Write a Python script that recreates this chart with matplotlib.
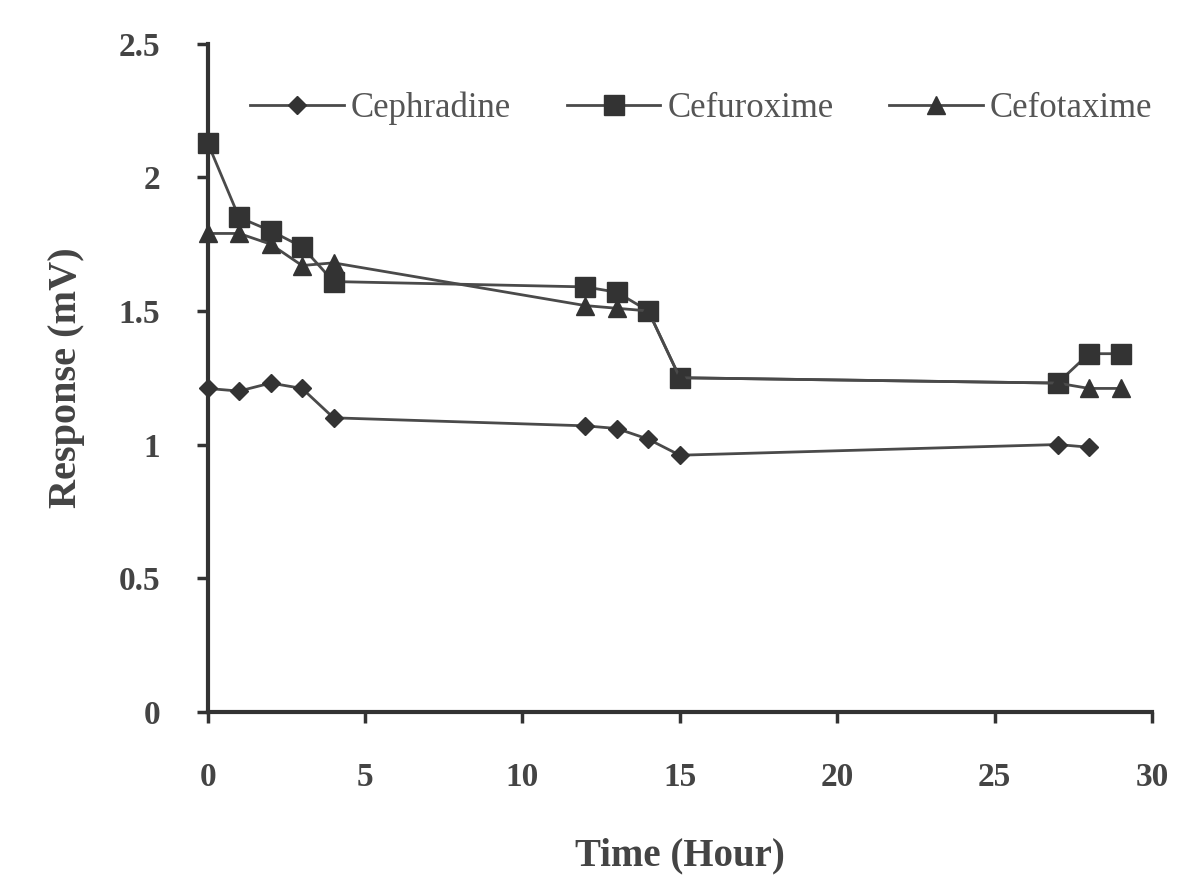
import matplotlib
matplotlib.use("Agg")
import matplotlib.pyplot as plt

# sampling times (hours) and responses (mV)
t_cephradine = [0, 1, 2, 3, 4, 12, 13, 14, 15, 27, 28]
cephradine = [1.21, 1.20, 1.23, 1.21, 1.10, 1.07, 1.06, 1.02, 0.96, 1.00, 0.99]

t_cefuroxime = [0, 1, 2, 3, 4, 12, 13, 14, 15, 27, 28, 29]
cefuroxime = [2.13, 1.85, 1.80, 1.74, 1.61, 1.59, 1.57, 1.50, 1.25, 1.23, 1.34, 1.34]

t_cefotaxime = [0, 1, 2, 3, 4, 12, 13, 14, 15, 27, 28, 29]
cefotaxime = [1.79, 1.79, 1.75, 1.67, 1.68, 1.52, 1.51, 1.50, 1.25, 1.23, 1.21, 1.21]

plt.rcParams['font.family'] = ['Liberation Serif', 'DejaVu Serif']

fig = plt.figure(figsize=(12, 8.93), dpi=100)
ax = fig.add_axes([0.173, 0.203, 0.787, 0.748])

line_col = "#4a4a4a"
mark_col = "#333333"

ax.plot(t_cephradine, cephradine, color=line_col, lw=2, marker="D", ms=9,
        mfc=mark_col, mec=mark_col, label="Cephradine", clip_on=False, zorder=3)
ax.plot(t_cefuroxime, cefuroxime, color=line_col, lw=2, marker="s", ms=14,
        mfc=mark_col, mec=mark_col, label="Cefuroxime", clip_on=False, zorder=3)
ax.plot(t_cefotaxime, cefotaxime, color=line_col, lw=2, marker="^", ms=13,
        mfc=mark_col, mec=mark_col, label="Cefotaxime", clip_on=False, zorder=3)

ax.set_xlim(0, 30)
ax.set_ylim(0, 2.5)
ax.set_xticks([0, 5, 10, 15, 20, 25, 30])
ax.set_yticks([0, 0.5, 1, 1.5, 2, 2.5])
ax.set_yticklabels(["0", "0.5", "1", "1.5", "2", "2.5"])

for s in ["top", "right"]:
    ax.spines[s].set_visible(False)
for s in ["left", "bottom"]:
    ax.spines[s].set_linewidth(3)
    ax.spines[s].set_color("#333333")

ax.tick_params(axis="both", direction="out", length=8, width=2.5, color="#333333",
               labelsize=24, labelcolor="#444444")
ax.tick_params(axis="x", pad=28)
ax.tick_params(axis="y", pad=26)
for lab in ax.get_xticklabels() + ax.get_yticklabels():
    lab.set_fontweight("bold")

ax.set_xlabel("Time (Hour)", fontsize=28, fontweight="bold", color="#444444", labelpad=32)
ax.set_ylabel("Response (mV)", fontsize=29, fontweight="bold", color="#444444", labelpad=24)

leg = ax.legend(loc="upper left", bbox_to_anchor=(0.012, 0.975), ncol=3, frameon=False,
                fontsize=25, handlelength=2.7, columnspacing=1.6, handletextpad=0.2,
                labelcolor="#555555")

fig.savefig("out.png", dpi=100)
